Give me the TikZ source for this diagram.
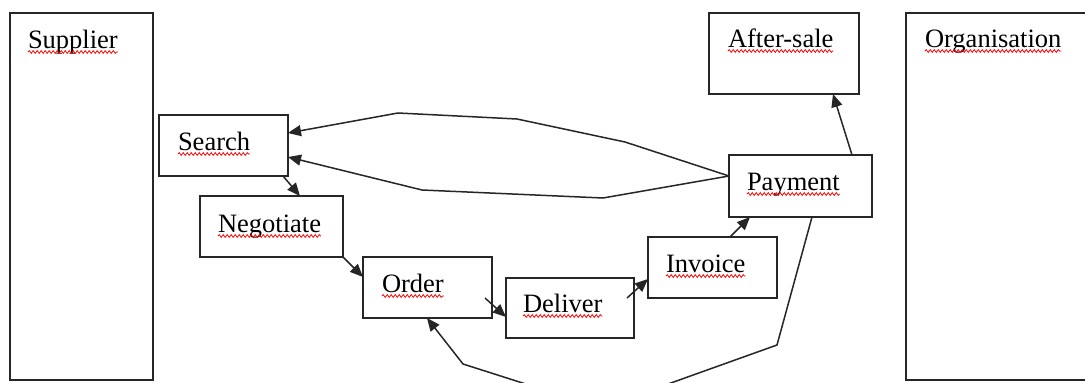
\documentclass[tikz,border=0pt]{standalone}
\usepackage{fontspec}
\setmainfont{Liberation Serif}
\usetikzlibrary{arrows.meta,calc,decorations.pathmorphing}
\begin{document}
\begin{tikzpicture}[x=1pt,y=-1pt,
  box/.style={draw=black!85, line width=1.6pt, inner sep=0pt, outer sep=0pt, anchor=north west},
  lbl/.style={anchor=base west, inner sep=0pt, outer sep=0pt, font=\fontsize{26.5}{30}\selectfont},
  conn/.style={draw=black!85, line width=1.5pt, -{Triangle[length=13pt,width=11pt]}},
  wavy/.style={red, line width=0.8pt, decorate, decoration={snake, segment length=4pt, amplitude=1.4pt}}]
\useasboundingbox (0,0) rectangle (1085,383);
\clip (0,0) rectangle (1085,383);
\fill[white] (0,0) rectangle (1085,383);
% boxes
\node[box, minimum width=143pt, minimum height=367pt] (supplier) at (10,13) {};
\node[box, minimum width=129pt, minimum height=61pt] (search) at (159,115) {};
\node[box, minimum width=143pt, minimum height=61pt] (negot) at (200,196) {};
\node[box, minimum width=129pt, minimum height=61pt] (order) at (363,257) {};
\node[box, minimum width=128pt, minimum height=60pt] (deliver) at (506,278) {};
\node[box, minimum width=129pt, minimum height=61pt] (invoice) at (648,237) {};
\node[box, minimum width=143pt, minimum height=62pt] (payment) at (729,155) {};
\node[box, minimum width=150pt, minimum height=81pt] (aftersale) at (709,13) {};
\node[box, minimum width=250pt, minimum height=367pt] (org) at (906,13) {};
% labels
\node[lbl] (lsup) at (28,48) {Supplier};
\node[lbl] (lsea) at (178,150) {Search};
\node[lbl] (lneg) at (218,232) {Negotiate};
\node[lbl] (lord) at (382,292) {Order};
\node[lbl] (ldel) at (523,312) {Deliver};
\node[lbl] (linv) at (666,272) {Invoice};
\node[lbl] (lpay) at (747,190) {Payment};
\node[lbl] (laft) at (728,47) {After-sale};
\node[lbl] (lorg) at (925,47) {Organisation};
\foreach \l in {lsup,lsea,lneg,lord,ldel,linv,lpay,laft,lorg}
  \draw[wavy] ($(\l.base west)+(0,4)$) -- ($(\l.base east)+(0,4)$);
% connectors
\draw[conn] ($(payment.west)+(0,-10)$) -- (625,142) -- (517,119) -- (398,113) -- ($(search.east)+(0,-12.5)$);
\draw[conn] ($(payment.west)+(0,-10)$) -- (603,198) -- (422,190) -- ($(search.east)+(0,11.5)$);
\draw[conn] ($(search.south east)+(-5,0)$) -- ($(negot.north west)+(100,0)$);
\draw[conn] (negot.south east) -- ($(order.north west)+(0,20)$);
\draw[conn] ($(order.south east)+(-7,-20)$) -- ($(deliver.west)+(0,9)$);
\draw[conn] ($(deliver.east)+(-7,-10)$) -- ($(invoice.south west)+(0,-19)$);
\draw[conn] ($(invoice.north west)+(82,0)$) -- ($(payment.south west)+(21,0)$);
\draw[conn] ($(payment.north west)+(123,0)$) -- ($(aftersale.south west)+(124,0)$);
\draw[conn] ($(payment.south west)+(83,0)$) -- (777,345) -- (601,408) -- (463,364) -- ($(order.south west)+(64,0)$);
\end{tikzpicture}
\end{document}
